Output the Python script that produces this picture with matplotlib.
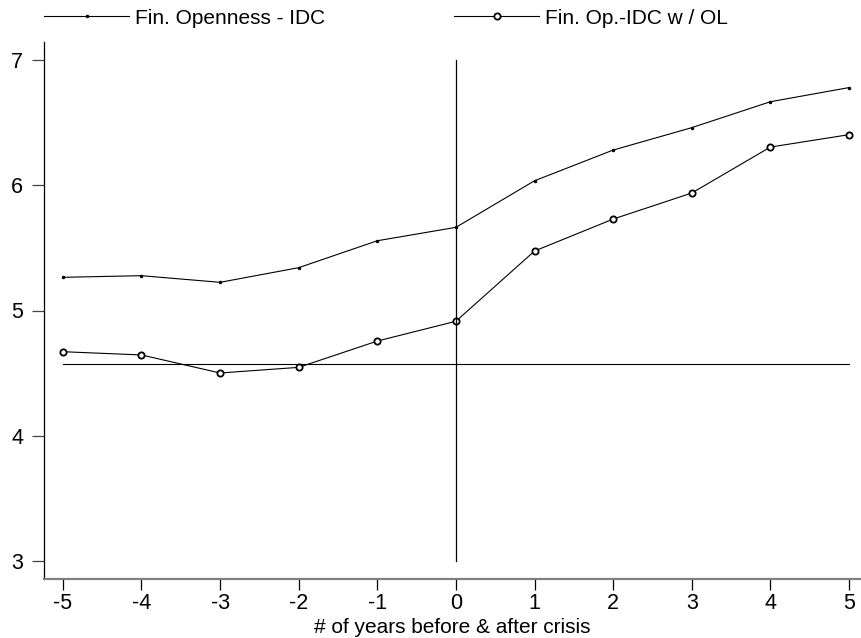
import numpy as np
import matplotlib
matplotlib.use('Agg')
import matplotlib.pyplot as plt

plt.rcParams['font.family'] = ['Liberation Sans', 'DejaVu Sans']

anos = [-5, -4, -3, -2, -1, 0, 1, 2, 3, 4, 5]
fin_openness = [5.265, 5.278, 5.225, 5.342, 5.557, 5.664, 6.036, 6.281, 6.46, 6.667, 6.78]
fin_op_ol = [4.671, 4.645, 4.501, 4.546, 4.756, 4.914, 5.475, 5.73, 5.938, 6.305, 6.404]
linha_base = 4.573

fig = plt.figure(figsize=(8.61, 6.38), dpi=100)
ax = fig.add_axes([44 / 861, 1 - 579 / 638, 1 - 44 / 861, (579 - 42) / 638])

ax.plot(anos, fin_openness, color='black', linewidth=0.8, marker='o',
        markersize=1.5, label='Fin. Openness - IDC')
ax.plot(anos, fin_op_ol, color='black', linewidth=0.8, marker='o',
        markersize=4.5, markerfacecolor='white', markeredgewidth=1.3,
        label='Fin. Op.-IDC w / OL')

ax.plot([anos[0], anos[-1]], [linha_base, linha_base], color='black', linewidth=0.8)
ax.plot([0, 0], [3, 7], color='black', linewidth=0.9)

ax.set_xlim(-5.24, 5.153)
ax.set_ylim(2.856, 7.144)
ax.set_xticks(anos)
ax.set_xticklabels([str(a) for a in anos])
ax.set_yticks([3, 4, 5, 6, 7])

ax.spines['top'].set_visible(False)
ax.spines['right'].set_visible(False)
ax.spines['left'].set_linewidth(0.9)
ax.spines['bottom'].set_color('#808080')
ax.spines['bottom'].set_linewidth(1.6)

ax.tick_params(axis='y', length=9, width=0.9, color='#444444', pad=6, labelsize=15.5)
ax.tick_params(axis='x', length=8, width=0.9, color='black', pad=2, labelsize=15.5)
ax.set_xlabel('# of years before & after crisis', fontsize=15, labelpad=3)

fig.legend(loc='center left', bbox_to_anchor=(44 / 861, 1 - 18 / 638), ncol=2,
           frameon=False, fontsize=15, handlelength=4.1, handletextpad=0.25,
           columnspacing=6.2, borderaxespad=0, borderpad=0)

plt.savefig('out.png', dpi=100)
plt.close()
